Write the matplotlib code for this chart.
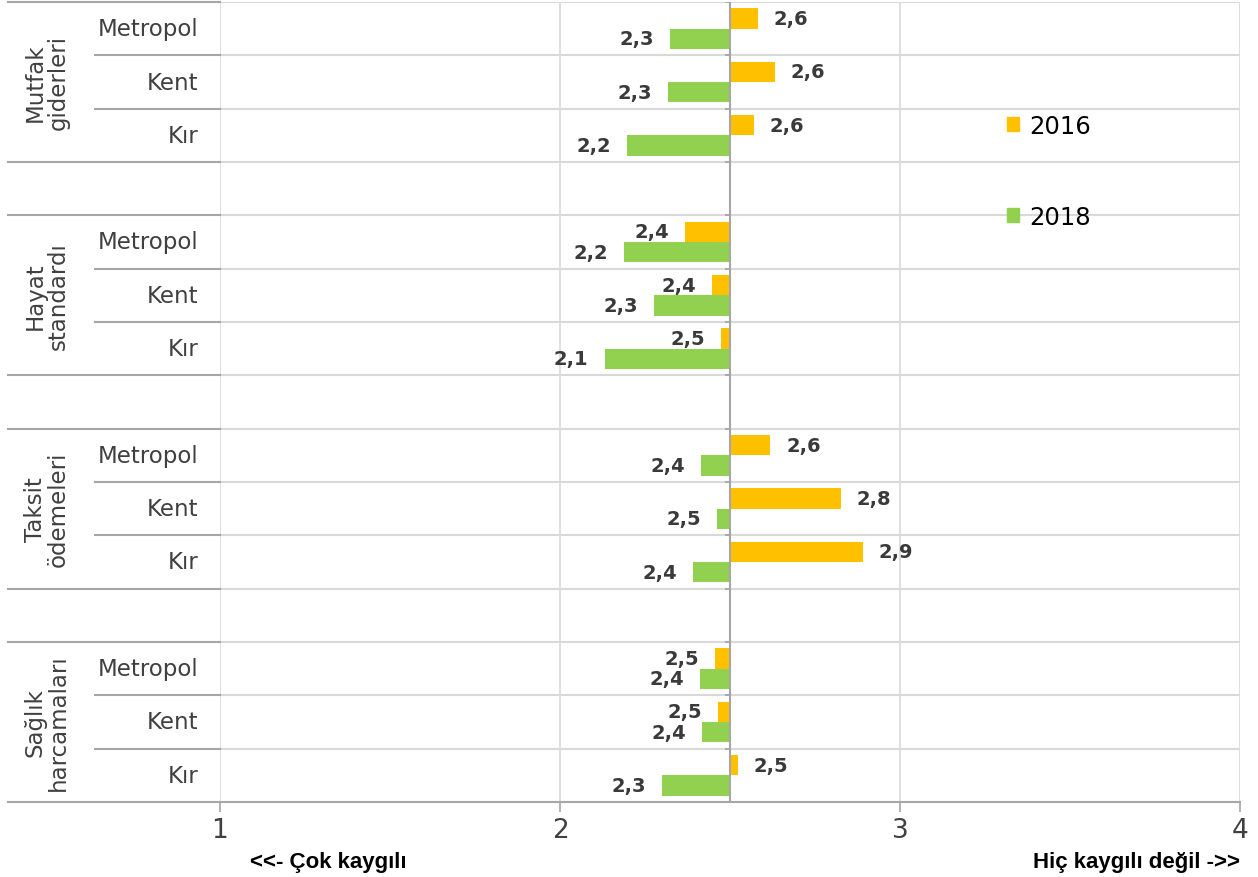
import matplotlib
matplotlib.use("Agg")
import matplotlib.pyplot as plt
from matplotlib.patches import Patch

# ---- data ----
groups = ["Mutfak\ngiderleri", "Hayat\nstandardı", "Taksit\nödemeleri", "Sağlık\nharcamaları"]
areas = ["Metropol", "Kent", "Kır"]
series_names = ["2016", "2018"]
values_2016 = [2.582, 2.631, 2.570,
               2.367, 2.447, 2.474,
               2.618, 2.826, 2.891,
               2.456, 2.465, 2.523]
values_2018 = [2.324, 2.319, 2.197,
               2.189, 2.276, 2.131,
               2.415, 2.461, 2.391,
               2.412, 2.418, 2.299]
x_ticks = [1, 2, 3, 4]
x_left_label = "<<- Çok kaygılı"
x_right_label = "Hiç kaygılı değil ->>"
BASELINE = 2.5

# ---- style ----
C2016 = "#FFC000"
C2018 = "#92D050"
GRID = "#D9D9D9"
AXC = "#A6A6A6"
TXT = "#404040"

W, H = 1258, 878
fig = plt.figure(figsize=(W / 100, H / 100), dpi=100)
ax = fig.add_axes([220 / W, 1 - 803 / H, 1020 / W, 800 / H])

# row positions: 3 rows per group + 1 gap row
positions = []
for g in range(len(groups)):
    for a in range(len(areas)):
        positions.append(g * 4 + a)
n_rows = len(groups) * 4 - 1

bh = 0.38
off = 0.19
pos16 = [p - off for p in positions]
pos18 = [p + off for p in positions]
ax.barh(pos16, [v - BASELINE for v in values_2016], left=BASELINE, height=bh,
        color=C2016, zorder=3)
ax.barh(pos18, [v - BASELINE for v in values_2018], left=BASELINE, height=bh,
        color=C2018, zorder=3)

def fmt(v):
    return f"{v:.1f}".replace(".", ",")

for ys, vals in ((pos16, values_2016), (pos18, values_2018)):
    for y, v in zip(ys, vals):
        right = v >= BASELINE
        ax.annotate(fmt(v), xy=(v, y), xytext=(11.5 if right else -11.5, 0),
                    textcoords="offset points", ha="left" if right else "right",
                    va="center", fontsize=14, fontweight="heavy", color="#3A3A3A",
                    family="DejaVu Sans", zorder=4)

ax.set_xlim(x_ticks[0], x_ticks[-1])
ax.set_ylim(n_rows - 0.5, -0.5)

# gridlines
bounds = [b - 0.5 for b in range(n_rows + 1)]
for b in bounds[:-1]:
    ax.axhline(b, color=GRID, lw=1.5, zorder=1)
for t in x_ticks:
    ax.axvline(t, color=GRID, lw=1.2, zorder=1)

# vertical axis at baseline with small ticks
ax.axvline(BASELINE, color=AXC, lw=1.5, zorder=5)
ax.hlines(bounds, BASELINE - 0.016, BASELINE, color=AXC, lw=1.3, zorder=5)

for s in ("left", "right", "top"):
    ax.spines[s].set_visible(False)
ax.spines["bottom"].set_color(AXC)
ax.spines["bottom"].set_linewidth(1.5)
ax.set_xticks(x_ticks)
ax.set_xticklabels([str(t) for t in x_ticks])
ax.tick_params(axis="x", length=7, width=1.2, color=AXC, labelsize=19,
               labelcolor=TXT, pad=4)
ax.set_yticks([])
for lbl in ax.get_xticklabels():
    lbl.set_family("DejaVu Sans")

# multi-level category axis
ytr = ax.get_yaxis_transform()
x_full = (8 - 220) / 1020
x_inner = (95 - 220) / 1020
x_cat = (198 - 220) / 1020
x_grp = (47 - 220) / 1020
for g, gname in enumerate(groups):
    top = g * 4 - 0.5
    for a, aname in enumerate(areas):
        r = g * 4 + a
        ax.text(x_cat, r, aname, transform=ytr, ha="right", va="center",
                fontsize=16.5, color=TXT, family="DejaVu Sans")
        if a > 0:
            ax.plot([x_inner, 0], [r - 0.5, r - 0.5], transform=ytr,
                    color=AXC, lw=1.5, clip_on=False)
    ax.plot([x_full, 0], [top, top], transform=ytr, color=AXC, lw=1.5, clip_on=False)
    ax.plot([x_full, 0], [top + 3, top + 3], transform=ytr, color=AXC, lw=1.5,
            clip_on=False)
    ax.text(x_grp, g * 4 + 1, gname, transform=ytr, rotation=90, ha="center",
            va="center", fontsize=16.5, color=TXT, family="DejaVu Sans",
            linespacing=1.0, multialignment="center")

# bottom annotations
fig.text(250 / W, 1 - 863 / H, x_left_label, ha="left", va="center", fontsize=16,
         fontweight="bold", color="black", family="Liberation Sans")
fig.text(1240 / W, 1 - 863 / H, x_right_label, ha="right", va="center", fontsize=16,
         fontweight="bold", color="black", family="Liberation Sans")

# legend
handles = [Patch(color=C2016, label=series_names[0]),
           Patch(color=C2018, label=series_names[1])]
fig.legend(handles=handles, loc="upper left", bbox_to_anchor=(1007 / W, 1 - 115 / H),
           frameon=False, handlelength=0.5, handleheight=0.5,
           handletextpad=0.4, labelspacing=2.75, borderpad=0, borderaxespad=0,
           prop={"family": "DejaVu Sans", "size": 17.5})

fig.savefig("out.png", dpi=100)
